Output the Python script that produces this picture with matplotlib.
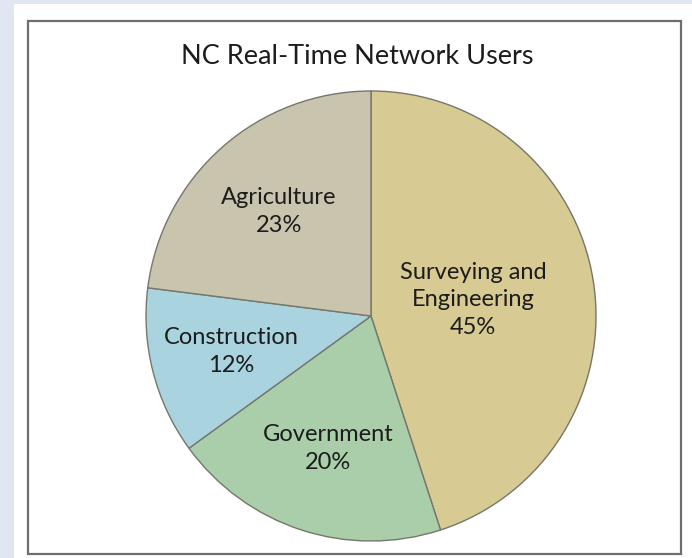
import matplotlib
matplotlib.use("Agg")
import matplotlib.pyplot as plt
from matplotlib.patches import Rectangle
import numpy as np

title = "NC Real-Time Network Users"
categories = ["Surveying and\nEngineering", "Government", "Construction", "Agriculture"]
values = [45, 20, 12, 23]
colors = ["#d8ca93", "#a9cea9", "#aad3e0", "#c9c4ae"]
label_dist = [0.46, 0.62, 0.64, 0.62]

plt.rcParams['font.family'] = ['Lato', 'DejaVu Sans']

W, H = 692, 558
fig = plt.figure(figsize=(W / 100, H / 100), dpi=100, facecolor="white")

# light blue page background strips
fig.patches.append(Rectangle((0, 0), 14 / W, 1, transform=fig.transFigure,
                             facecolor="#e0e6f3", edgecolor="none", zorder=0))
fig.patches.append(Rectangle((0, 1 - 4 / H), 1, 4 / H, transform=fig.transFigure,
                             facecolor="#e0e6f3", edgecolor="none", zorder=0))
# frame
fig.patches.append(Rectangle((28 / W, 4 / H), 653 / W, 533 / H, transform=fig.transFigure,
                             facecolor="none", edgecolor="#6e6e6e", linewidth=1.6, zorder=1))

cx, cy, r = 371, 558 - 316, 225
ax = fig.add_axes([(cx - r) / W, (cy - r) / H, 2 * r / W, 2 * r / H])

wedges, _ = ax.pie(values, colors=colors, startangle=90, counterclock=False, radius=1,
                   wedgeprops=dict(edgecolor="#76766c", linewidth=1.0))
ax.set_xlim(-1, 1)
ax.set_ylim(-1, 1)
ax.set_aspect("equal")
ax.axis("off")

for w, cat, v, d in zip(wedges, categories, values, label_dist):
    mid = np.deg2rad((w.theta1 + w.theta2) / 2)
    ax.text(d * np.cos(mid), d * np.sin(mid), f"{cat}\n{v}%", ha="center", va="center",
            fontsize=17, color="#1c1c1c", linespacing=1.4)

fig.text(357 / W, 1 - 56 / H, title, ha="center", va="center", fontsize=19.5, color="#1c1c1c")

fig.savefig("out.png", dpi=100, facecolor="white")
